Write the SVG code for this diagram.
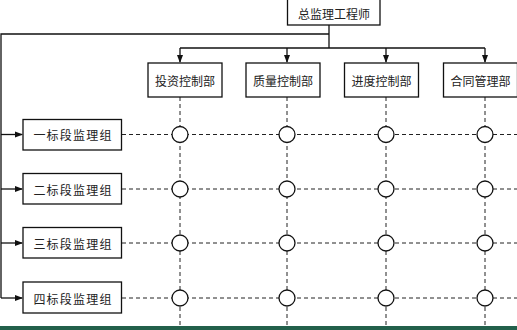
<svg xmlns="http://www.w3.org/2000/svg" width="517" height="330" viewBox="0 0 517 330">
<style>
.box{fill:#fff;stroke:#111;stroke-width:1.3}
.t{font-family:"Noto Sans CJK SC","Noto Sans",sans-serif;font-size:12px;fill:#222;text-anchor:middle;dominant-baseline:central}
.g{letter-spacing:1.2px}
.ln{fill:none;stroke:#111;stroke-width:1.3}
.ds{fill:none;stroke:#222;stroke-width:1;stroke-dasharray:4 3}
.c{fill:#fff;stroke:#111;stroke-width:1.3}
</style>
<defs>
<marker id="ah" markerWidth="8" markerHeight="8" refX="7" refY="4" orient="auto" markerUnits="userSpaceOnUse">
<path d="M0,1 L8,4 L0,7 Z" fill="#111"/>
</marker>
</defs>
<rect width="517" height="330" fill="#fff"/>
<g id="grid">
<path class="ds" d="M122,134.5H517M122,189H517M122,243H517M122,298H517"/>
<path class="ds" d="M180,97V326M287,97V326M386,97V326M485,97V326"/>
</g>
<g id="connectors">
<path class="ln" d="M329,25V48M329,34H1V298"/>
<path class="ln" d="M180,48H485"/>
<path class="ln" d="M180,48V62" marker-end="url(#ah)"/>
<path class="ln" d="M287,48V62" marker-end="url(#ah)"/>
<path class="ln" d="M386,48V62" marker-end="url(#ah)"/>
<path class="ln" d="M485,48V62" marker-end="url(#ah)"/>
<path class="ln" d="M1,134.5H22" marker-end="url(#ah)"/>
<path class="ln" d="M1,189H22" marker-end="url(#ah)"/>
<path class="ln" d="M1,243H22" marker-end="url(#ah)"/>
<path class="ln" d="M1,298H22" marker-end="url(#ah)"/>
</g>
<g id="chief"><rect class="box" x="287.5" y="-1" width="92.5" height="26"/><text class="t" x="334" y="13">总监理工程师</text></g>
<g id="dept1"><rect class="box" x="148" y="63" width="74" height="34"/><text class="t" x="185" y="80">投资控制部</text></g>
<g id="dept2"><rect class="box" x="246" y="63" width="74" height="34"/><text class="t" x="283" y="80">质量控制部</text></g>
<g id="dept3"><rect class="box" x="344.5" y="63" width="74" height="34"/><text class="t" x="381.5" y="80">进度控制部</text></g>
<g id="dept4"><rect class="box" x="443.5" y="63" width="74" height="34"/><text class="t" x="480.5" y="80">合同管理部</text></g>
<g id="grp1"><rect class="box" x="23" y="119.5" width="98.5" height="30.5"/><text class="t g" x="73" y="134.5">一标段监理组</text></g>
<g id="grp2"><rect class="box" x="23" y="173.5" width="98.5" height="30.5"/><text class="t g" x="73" y="189">二标段监理组</text></g>
<g id="grp3"><rect class="box" x="23" y="227.5" width="98.5" height="30.5"/><text class="t g" x="73" y="243">三标段监理组</text></g>
<g id="grp4"><rect class="box" x="23" y="282" width="98.5" height="31"/><text class="t g" x="73" y="298">四标段监理组</text></g>
<g id="nodes">
<circle class="c" cx="180" cy="134.5" r="8"/><circle class="c" cx="287" cy="134.5" r="8"/><circle class="c" cx="386" cy="134.5" r="8"/><circle class="c" cx="485" cy="134.5" r="8"/>
<circle class="c" cx="180" cy="189" r="8"/><circle class="c" cx="287" cy="189" r="8"/><circle class="c" cx="386" cy="189" r="8"/><circle class="c" cx="485" cy="189" r="8"/>
<circle class="c" cx="180" cy="243" r="8"/><circle class="c" cx="287" cy="243" r="8"/><circle class="c" cx="386" cy="243" r="8"/><circle class="c" cx="485" cy="243" r="8"/>
<circle class="c" cx="180" cy="298" r="8"/><circle class="c" cx="287" cy="298" r="8"/><circle class="c" cx="386" cy="298" r="8"/><circle class="c" cx="485" cy="298" r="8"/>
</g>
<rect x="0" y="326" width="517" height="4" fill="#22604b"/>
</svg>
